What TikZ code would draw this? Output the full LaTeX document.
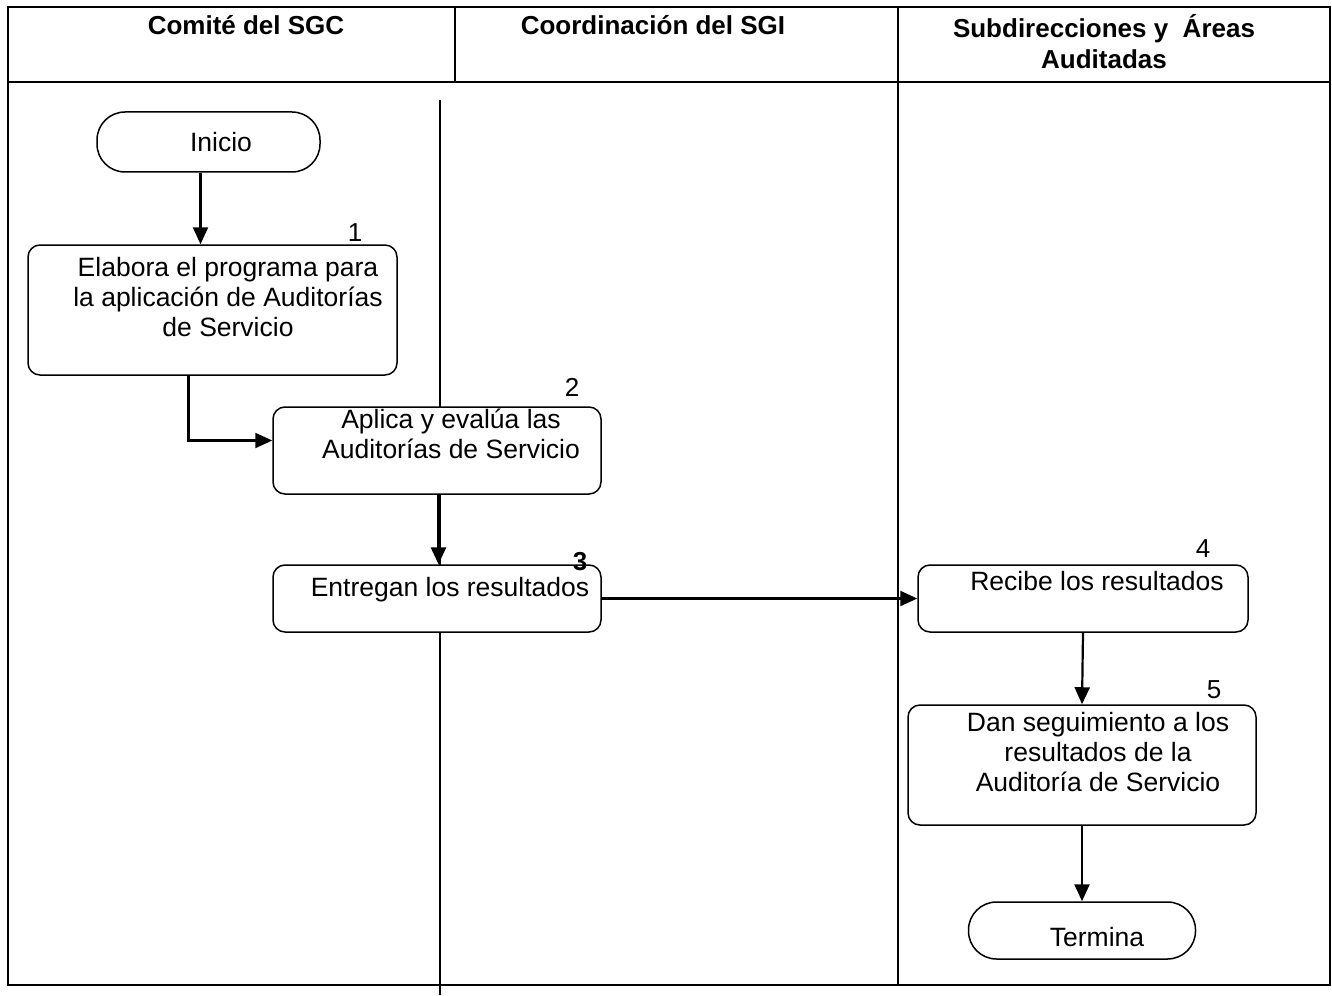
\documentclass[tikz,border=0pt]{standalone}
\usepackage{fontspec}
\setmainfont{Liberation Sans}
\usetikzlibrary{arrows.meta}

\begin{document}
\begin{tikzpicture}[x=1pt, y=-1pt,
    box/.style={rectangle, rounded corners=12pt, draw=black, line width=1.5pt, fill=white},
    term/.style={rectangle, rounded corners=28pt, draw=black, line width=1.5pt, fill=white},
    txt/.style={align=center, font=\fontsize{26.5}{30}\selectfont, inner sep=0pt},
    head/.style={align=center, font=\fontsize{26}{31}\selectfont\bfseries, inner sep=0pt},
    num/.style={font=\fontsize{26}{30}\selectfont, inner sep=0pt},
    frame/.style={line width=2.5pt},
    arr/.style={line width=2.2pt, -{Triangle[length=17pt,width=15pt]}}
]
    \useasboundingbox (0,0) rectangle (1332,995);

    % Frame
    \draw[frame] (8,7) rectangle (1330,985);
    \draw[frame] (8,82) -- (1330,82);
    \draw[frame] (455,7) -- (455,82);
    \draw[frame] (898,7) -- (898,985);
    \draw[line width=2pt] (440,100) -- (440,995);

    % Headers
    \node[head] (h1) at (246,25) {Comité del SGC};
    \node[head] (h2) at (653,25) {Coordinación del SGI};
    \node[head] (h3) at (1104,42) {Subdirecciones y\ \ Áreas\\Auditadas};

    % Shapes
    \node[term, minimum width=223pt, minimum height=60pt] (ini) at (208.5,142) {};
    \node[box, minimum width=369pt, minimum height=130pt] (b1) at (212.5,310) {};
    \node[box, minimum width=328pt, minimum height=87pt] (b2) at (437,450.5) {};
    \node[box, minimum width=328pt, minimum height=67pt] (b3) at (437,598.5) {};
    \node[box, minimum width=330pt, minimum height=67pt] (b4) at (1083,598.5) {};
    \node[box, minimum width=348pt, minimum height=120pt] (b5) at (1082,765) {};
    \node[term, minimum width=227pt, minimum height=57pt] (fin) at (1082,930.5) {};

    % Texts
    \node[txt] (t0) at (221,142) {Inicio};
    \node[txt] (t1) at (228,297) {Elabora el programa para\\la aplicación de Auditorías\\de Servicio};
    \node[txt] (t2) at (451,434) {Aplica y evalúa las\\Auditorías de Servicio};
    \node[txt] (t3) at (450,590) {Entregan los resultados};
    \node[txt] (t4) at (1097,581) {Recibe los resultados};
    \node[txt] (t5) at (1098,752) {Dan seguimiento a los\\resultados de la\\Auditoría de Servicio};
    \node[txt] (t6) at (1097,937) {Termina};

    % Step numbers
    \node[num] (n1) at (355,233) {1};
    \node[num] (n2) at (572,387) {2};
    \node[num, font=\fontsize{26}{30}\selectfont\bfseries] (n3) at (580,562) {3};
    \node[num] (n4) at (1203,549) {4};
    \node[num] (n5) at (1214,690) {5};

    % Flow
    \draw[arr] ([xshift=-8pt]ini.south) -- ([xshift=-8pt]ini.south |- b1.north);
    \draw[arr] ([xshift=-24pt]b1.south) |- ([yshift=10pt]b2.west);
    \draw[arr, line width=2.8pt] ([xshift=1.5pt]b2.south) -- ([xshift=1.5pt]b3.north);
    \draw[arr] (b3.east) -- (b4.west);
    \draw[arr] (b4.south) -- (b5.north);
    \draw[arr] (b5.south) -- (fin.north);

\end{tikzpicture}
\end{document}
